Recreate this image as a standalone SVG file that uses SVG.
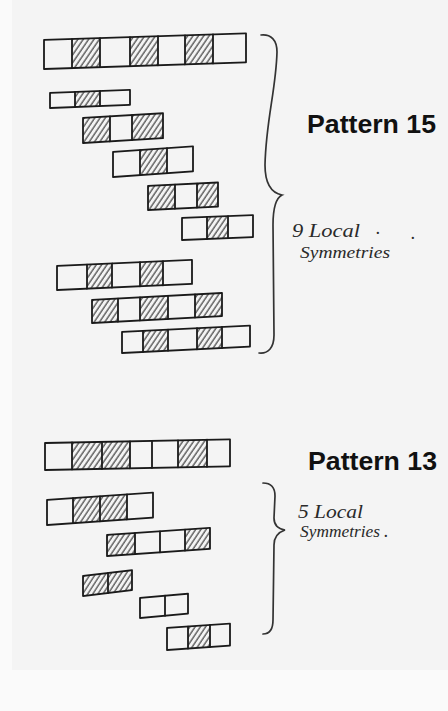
<svg xmlns="http://www.w3.org/2000/svg" width="448" height="711" viewBox="0 0 448 711">
<defs>
<pattern id="hatch" patternUnits="userSpaceOnUse" width="4.5" height="6" patternTransform="rotate(35)">
<line x1="1" y1="0" x2="1" y2="6" stroke="#2a2a2a" stroke-width="1.1"/>
</pattern>
</defs>
<style>
.o{fill:none;stroke:#1a1a1a;stroke-width:1.8;stroke-linejoin:round;stroke-linecap:round}
.h{fill:url(#hatch);stroke:none}
.brace{fill:none;stroke:#333;stroke-width:1.7;stroke-linecap:round}
.title{font-family:"Liberation Sans",Arial,sans-serif;font-weight:bold;font-size:25px;fill:#111}
.hand{font-family:"Liberation Serif","Times New Roman",serif;font-style:italic;fill:#2a2a2a}
</style>
<rect x="0" y="0" width="448" height="711" fill="#fafafa"/>
<rect x="12" y="0" width="436" height="670" fill="#f4f4f4"/>

<g id="p15-row1" transform="matrix(1 -0.033 0 1 44 40)">
<rect class="h" x="28" y="0" width="28" height="29"/>
<rect class="h" x="86" y="0" width="28" height="29"/>
<rect class="h" x="141" y="0" width="28" height="29"/>
<rect class="o" x="0" y="0" width="202" height="29"/>
<path class="o" d="M28,0V29M56,0V29M86,0V29M114,0V29M141,0V29M169,0V29"/>
</g>
<g id="p15-row2" transform="matrix(1 -0.04 0 1 50 93)">
<rect class="h" x="25" y="0" width="25" height="15"/>
<rect class="o" x="0" y="0" width="80" height="15"/>
<path class="o" d="M25,0V15M50,0V15"/>
</g>
<g id="p15-row3" transform="matrix(1 -0.06 0 1 83 118)">
<rect class="h" x="0" y="0" width="27" height="25"/>
<rect class="h" x="49" y="0" width="31" height="25"/>
<rect class="o" x="0" y="0" width="80" height="25"/>
<path class="o" d="M27,0V25M49,0V25"/>
</g>
<g id="p15-row4" transform="matrix(1 -0.07 0 1 113 152)">
<rect class="h" x="27" y="0" width="27" height="25"/>
<rect class="o" x="0" y="0" width="80" height="25"/>
<path class="o" d="M27,0V25M54,0V25"/>
</g>
<g id="p15-row5" transform="matrix(1 -0.05 0 1 148 186)">
<rect class="h" x="0" y="0" width="27" height="24"/>
<rect class="h" x="49" y="0" width="21" height="24"/>
<rect class="o" x="0" y="0" width="70" height="24"/>
<path class="o" d="M27,0V24M49,0V24"/>
</g>
<g id="p15-row6" transform="matrix(1 -0.04 0 1 182 218)">
<rect class="h" x="25" y="0" width="21" height="22"/>
<rect class="o" x="0" y="0" width="71" height="22"/>
<path class="o" d="M25,0V22M46,0V22"/>
</g>
<g id="p15-row7" transform="matrix(1 -0.045 0 1 57 266)">
<rect class="h" x="30" y="0" width="25" height="24"/>
<rect class="h" x="83" y="0" width="23" height="24"/>
<rect class="o" x="0" y="0" width="135" height="24"/>
<path class="o" d="M30,0V24M55,0V24M83,0V24M106,0V24"/>
</g>
<g id="p15-row8" transform="matrix(1 -0.054 0 1 92 300)">
<rect class="h" x="0" y="0" width="26" height="23"/>
<rect class="h" x="48" y="0" width="28" height="23"/>
<rect class="h" x="103" y="0" width="27" height="23"/>
<rect class="o" x="0" y="0" width="130" height="23"/>
<path class="o" d="M26,0V23M48,0V23M76,0V23M103,0V23"/>
</g>
<g id="p15-row9" transform="matrix(1 -0.05 0 1 122 332)">
<rect class="h" x="21" y="0" width="25" height="21"/>
<rect class="h" x="75" y="0" width="25" height="21"/>
<rect class="o" x="0" y="0" width="128" height="21"/>
<path class="o" d="M21,0V21M46,0V21M75,0V21M100,0V21"/>
</g>

<g id="p13-row1" transform="matrix(1 -0.02 0 1 45 443)">
<rect class="h" x="27" y="0" width="58" height="27"/>
<rect class="h" x="133" y="0" width="29" height="27"/>
<rect class="o" x="0" y="0" width="185" height="27"/>
<path class="o" d="M27,0V27M57,0V27M85,0V27M107,0V27M133,0V27M162,0V27"/>
</g>
<g id="p13-row2" transform="matrix(1 -0.07 0 1 47 500)">
<rect class="h" x="26" y="0" width="54" height="25"/>
<rect class="o" x="0" y="0" width="106" height="25"/>
<path class="o" d="M26,0V25M53,0V25M80,0V25"/>
</g>
<g id="p13-row3" transform="matrix(1 -0.07 0 1 107 535)">
<rect class="h" x="0" y="0" width="28" height="21"/>
<rect class="h" x="78" y="0" width="25" height="21"/>
<rect class="o" x="0" y="0" width="103" height="21"/>
<path class="o" d="M28,0V21M53,0V21M78,0V21"/>
</g>
<g id="p13-row4" transform="matrix(1 -0.12 0 1 83 576)">
<rect class="h" x="0" y="0" width="49" height="20"/>
<rect class="o" x="0" y="0" width="49" height="20"/>
<path class="o" d="M25,0V20"/>
</g>
<g id="p13-row5" transform="matrix(1 -0.09 0 1 140 598)">
<rect class="o" x="0" y="0" width="48" height="20"/>
<path class="o" d="M25,0V20"/>
</g>
<g id="p13-row6" transform="matrix(1 -0.07 0 1 167 628)">
<rect class="h" x="21" y="0" width="22" height="22"/>
<rect class="o" x="0" y="0" width="63" height="22"/>
<path class="o" d="M21,0V22M43,0V22"/>
</g>

<g id="connectors">
<path class="brace" d="M261,35 C271,34 277,40 277,52 C276,90 266,120 265,165 C265,185 272,193 282,195 C276,198 273,210 273,225 L274,335 C274,348 268,354 259,353"/>
<path class="brace" d="M263,483 C271,483 275,488 275,496 L274,518 C274,526 279,529 285,530 C279,532 274,536 274,545 L273,620 C273,630 269,634 263,634"/>
</g>

<g id="label-pattern15">
<text class="title" x="307" y="133" textLength="129" lengthAdjust="spacingAndGlyphs">Pattern 15</text>
</g>
<g id="note-pattern15">
<text class="hand" x="292" y="237" font-size="19" textLength="68" lengthAdjust="spacingAndGlyphs">9 Local</text>
<text class="hand" x="300" y="258" font-size="17" textLength="90" lengthAdjust="spacingAndGlyphs">Symmetries</text>
<text class="hand" x="376" y="234" font-size="18">.</text>
<text class="hand" x="411" y="239" font-size="18">.</text>
</g>
<g id="label-pattern13">
<text class="title" x="308" y="470" textLength="129" lengthAdjust="spacingAndGlyphs">Pattern 13</text>
</g>
<g id="note-pattern13">
<text class="hand" x="298" y="518" font-size="19" textLength="65" lengthAdjust="spacingAndGlyphs">5 Local</text>
<text class="hand" x="300" y="537" font-size="17" textLength="80" lengthAdjust="spacingAndGlyphs">Symmetries</text>
<text class="hand" x="384" y="537" font-size="18">.</text>
</g>
</svg>
